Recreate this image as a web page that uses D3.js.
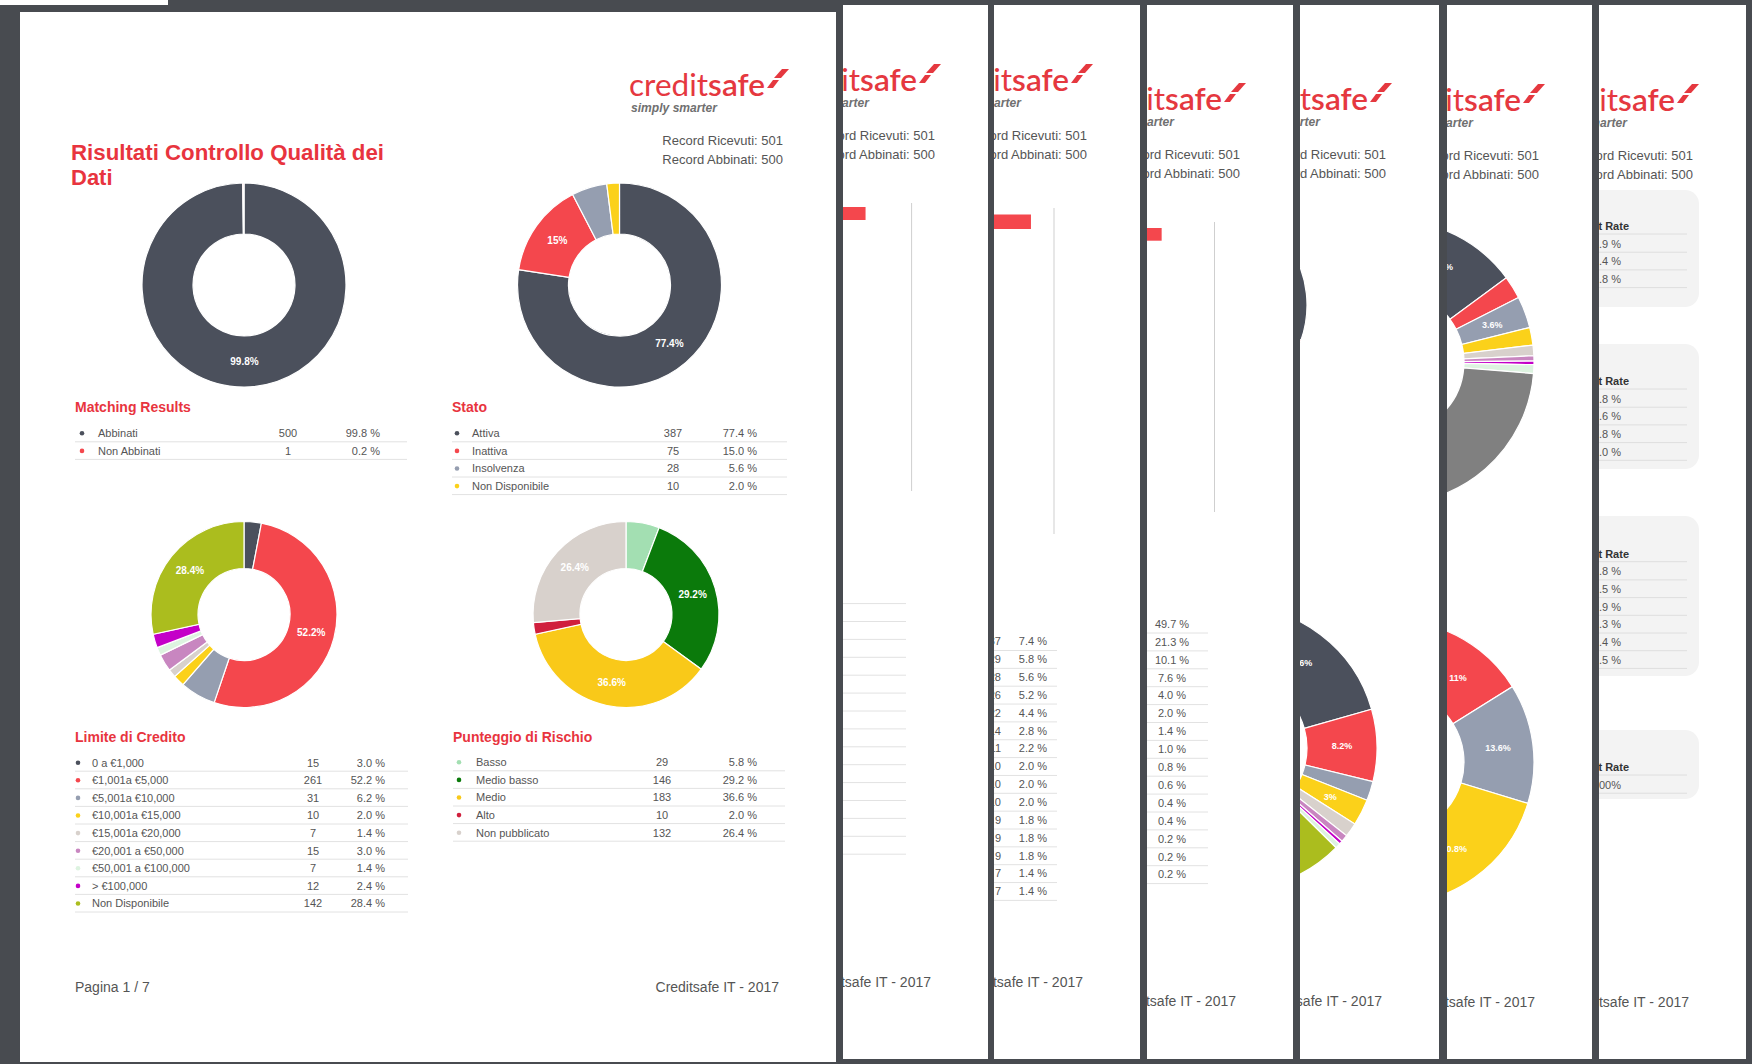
<!DOCTYPE html>
<html><head><meta charset="utf-8">
<script src="https://cdn.jsdelivr.net/npm/d3@7"></script>
<style>
html,body{margin:0;padding:0;background:#474a4f;overflow:hidden}
svg{display:block;font-family:"Liberation Sans",Arial,sans-serif}
</style>
</head><body>
<svg id="c" width="1752" height="1064"></svg>
<script>
// ---------------- DATA ----------------
const matchLabels = ["Abbinati", "Non Abbinati"];
const matchCounts = [500, 1];
const matchPct = [99.8, 0.2];

const statoLabels = ["Attiva", "Inattiva", "Insolvenza", "Non Disponibile"];
const statoCounts = [387, 75, 28, 10];
const statoPct = [77.4, 15.0, 5.6, 2.0];

const limiteLabels = ["0 a €1,000", "€1,001a €5,000", "€5,001a €10,000", "€10,001a €15,000", "€15,001a €20,000",
  "€20,001 a €50,000", "€50,001 a €100,000", "> €100,000", "Non Disponibile"];
const limiteCounts = [15, 261, 31, 10, 7, 15, 7, 12, 142];
const limitePct = [3.0, 52.2, 6.2, 2.0, 1.4, 3.0, 1.4, 2.4, 28.4];

const rischioLabels = ["Basso", "Medio basso", "Medio", "Alto", "Non pubblicato"];
const rischioCounts = [29, 146, 183, 10, 132];
const rischioPct = [5.8, 29.2, 36.6, 2.0, 26.4];

const recordRicevuti = 501;
const recordAbbinati = 500;

// partly hidden pages behind the first one
const page2Bar = [88.3];
const page3Bar = [94.0];
const page4Bar = [86.5];
const page3Counts = [37, 29, 28, 26, 22, 14, 11, 10, 10, 10, 9, 9, 9, 7, 7];
const page3Pct = [7.4, 5.8, 5.6, 5.2, 4.4, 2.8, 2.2, 2.0, 2.0, 2.0, 1.8, 1.8, 1.8, 1.4, 1.4];
const page4Pct = [49.7, 21.3, 10.1, 7.6, 4.0, 2.0, 1.4, 1.0, 0.8, 0.6, 0.4, 0.4, 0.2, 0.2, 0.2];
const page5TopPct = [30.4, 8.0, 61.6];
const page5BottomPct = [20.6, 8.2, 2.2, 3.0, 1.6, 0.8, 0.4, 0.6, 62.6];
const page5BottomShown = [true, true, false, true, false, false, false, false, true];
const page6TopPct = [14.9, 2.6, 3.6, 2.0, 1.2, 0.6, 0.4, 1.0, 73.7];
const page6TopShown = [true, false, true, false, false, false, false, false, true];
const page6BottomPct = [5.1, 11, 13.6, 20.8, 49.5];
const page7Headers = ["Hit Rate", "Hit Rate", "Hit Rate", "Hit Rate"];
const page7Box1 = [4.9, 2.4, 0.8];
const page7Box2 = [1.8, 0.6, 0.8, 2.0];
const page7Box3 = [1.8, 0.5, 0.9, 0.3, 0.4, 0.5];
const page7Box4 = ["100%"];

// ---------------- STYLE ----------------
const C = {
  slate: "#4b505c", red: "#f4474d", grayblue: "#959eb0", yellow: "#fbd11a",
  beige: "#d8d1cc", mauve: "#c886c0", pale: "#ddf3e0", magenta: "#c400c8",
  olive: "#abbd1e", lgreen: "#a3dfb2", dgreen: "#0b7a0b", myellow: "#f9c919",
  crimson: "#d01f3d", midgray: "#808080"
};
const matchColors = [C.slate, C.red];
const statoColors = [C.slate, C.red, C.grayblue, C.yellow];
const limiteColors = [C.slate, C.red, C.grayblue, C.yellow, C.beige, C.mauve, C.pale, C.magenta, C.olive];
const rischioColors = [C.lgreen, C.dgreen, C.myellow, C.crimson, C.beige];
const RED = "#e8343e", TXT = "#555";

const svg = d3.select("#c");
const defs = svg.append("defs");
const fmtPct = v => d3.format(".1f")(v) + " %";
const fmtLbl = v => (v % 1 === 0 ? d3.format(".0f")(v) : d3.format(".1f")(v)) + "%";

svg.append("rect").attr("width", 1752).attr("height", 1064).attr("fill", "#484b50");
svg.append("rect").attr("x", 0).attr("y", 0).attr("width", 168).attr("height", 5).attr("fill", "#fff");

function donut(g, cx, cy, R, r, values, colors, shown, fs) {
  const pie = d3.pie().sort(null).value(d => d).startAngle(0).endAngle(2 * Math.PI)(values);
  const arc = d3.arc().innerRadius(r).outerRadius(R);
  const gg = g.append("g").attr("transform", `translate(${cx},${cy})`);
  gg.selectAll("path").data(pie).join("path")
    .attr("d", arc).attr("fill", (d, i) => colors[i])
    .attr("stroke", "#fff").attr("stroke-width", 1.2);
  gg.selectAll("text").data(pie.filter((d, i) => shown(values[i], i))).join("text")
    .attr("transform", d => `translate(${arc.centroid(d)})`)
    .attr("text-anchor", "middle").attr("dy", "0.35em")
    .attr("fill", "#fff").attr("font-weight", "bold").attr("font-size", fs)
    .text(d => fmtLbl(d.data));
}

function header(g, R, dy) {
  const t = g.append("text").attr("x", R - 207).attr("y", 96 + dy)
    .attr("font-family", "Lato, 'Open Sans', sans-serif").attr("font-size", 31)
    .attr("fill", "#e5383f").attr("textLength", 136).attr("lengthAdjust", "spacingAndGlyphs");
  t.append("tspan").attr("font-weight", 400).text("credit");
  t.append("tspan").attr("font-weight", 600).text("safe");
  g.append("polygon").attr("fill", "#e5383f")
    .attr("points", [[R - 62, 78 + dy], [R - 54, 69 + dy], [R - 47, 69 + dy], [R - 55, 78 + dy]].join(" "));
  g.append("polygon").attr("fill", "#e5383f")
    .attr("points", [[R - 69, 88 + dy], [R - 63, 80 + dy], [R - 57, 80 + dy], [R - 63, 88 + dy]].join(" "));
  g.append("text").attr("x", R - 205).attr("y", 112 + dy).attr("font-size", 12)
    .attr("font-weight", "bold").attr("font-style", "italic").attr("fill", "#707070")
    .attr("textLength", 86).attr("lengthAdjust", "spacingAndGlyphs").text("simply smarter");
  g.append("text").attr("x", R - 53).attr("y", 145 + dy).attr("text-anchor", "end")
    .attr("font-size", 13).attr("fill", TXT).text("Record Ricevuti: " + recordRicevuti);
  g.append("text").attr("x", R - 53).attr("y", 164 + dy).attr("text-anchor", "end")
    .attr("font-size", 13).attr("fill", TXT).text("Record Abbinati: " + recordAbbinati);
}
function footer(g, R, dy) {
  g.append("text").attr("x", R - 57).attr("y", 992 + dy).attr("text-anchor", "end")
    .attr("font-size", 14).attr("fill", TXT).text("Creditsafe IT - 2017");
}

function table(g, o) {
  g.append("text").attr("x", o.x0).attr("y", o.headY).attr("font-size", 14).attr("font-weight", "bold")
    .attr("fill", RED).text(o.title);
  const y = d3.scaleLinear().domain([0, 1]).range([o.rowY0, o.rowY0 + o.rowH]);
  const rows = g.selectAll(null).data(o.labels).join("g")
    .attr("transform", (d, i) => `translate(0,${y(i)})`);
  rows.append("line").attr("x1", o.x0).attr("x2", o.x1).attr("y1", 8.5).attr("y2", 8.5)
    .attr("stroke", "#e2e2e2").attr("stroke-width", 1);
  rows.append("circle").attr("cx", o.bulletX).attr("cy", 0).attr("r", 2.3).attr("fill", (d, i) => o.colors[i]);
  rows.append("text").attr("x", o.labelX).attr("dy", "0.35em").attr("font-size", 11).attr("fill", TXT).text(d => d);
  rows.append("text").attr("x", o.numX).attr("dy", "0.35em").attr("text-anchor", "middle")
    .attr("font-size", 11).attr("fill", TXT).text((d, i) => o.counts[i]);
  rows.append("text").attr("x", o.pctX).attr("dy", "0.35em").attr("text-anchor", "end")
    .attr("font-size", 11).attr("fill", TXT).text((d, i) => fmtPct(o.pcts[i]));
}

// ---------------- BACKGROUND PAGES ----------------
const pages = [
  { id: 7, left: 1599, right: 1746, dy: 15 },
  { id: 6, left: 1447, right: 1592, dy: 15 },
  { id: 5, left: 1300, right: 1439, dy: 14 },
  { id: 4, left: 1147, right: 1293, dy: 14 },
  { id: 3, left: 994, right: 1140, dy: -5 },
  { id: 2, left: 843, right: 988, dy: -5 }
];

function barChart(g, R, values, lineX, y0, h, lineY0, lineY1) {
  const x = d3.scaleLinear().domain([0, 100]).range([R - 470, lineX]);
  g.selectAll(null).data(values).join("rect")
    .attr("x", x(0)).attr("y", y0).attr("width", d => x(d) - x(0)).attr("height", h).attr("fill", C.red);
  g.append("line").attr("x1", x(100)).attr("x2", x(100)).attr("y1", lineY0).attr("y2", lineY1)
    .attr("stroke", "#cfcfcf").attr("stroke-width", 1);
}

function pageContent(g, p) {
  const R = p.right;
  if (p.id === 2) {
    barChart(g, R, page2Bar, 911.6, 207, 13, 203, 491);
    const ys = d3.range(15).map(i => 603.6 + i * 17.9);
    g.selectAll(null).data(ys).join("line").attr("x1", R - 400).attr("x2", 906)
      .attr("y1", d => d).attr("y2", d => d).attr("stroke", "#e2e2e2");
  }
  if (p.id === 3) {
    barChart(g, R, page3Bar, 1054, 214.5, 14.5, 208, 534);
    const y = i => 641.5 + i * 17.85;
    g.selectAll(null).data(page3Pct).join("line").attr("x1", R - 400).attr("x2", 1057)
      .attr("y1", (d, i) => y(i) + 9).attr("y2", (d, i) => y(i) + 9).attr("stroke", "#e2e2e2");
    g.selectAll(null).data(page3Counts).join("text").attr("x", 1001).attr("y", (d, i) => y(i)).attr("dy", "0.35em")
      .attr("text-anchor", "end").attr("font-size", 11).attr("fill", TXT).text(d => d);
    g.selectAll(null).data(page3Pct).join("text").attr("x", 1047).attr("y", (d, i) => y(i)).attr("dy", "0.35em")
      .attr("text-anchor", "end").attr("font-size", 11).attr("fill", TXT).text(d => fmtPct(d));
  }
  if (p.id === 4) {
    barChart(g, R, page4Bar, 1214.5, 228, 12.7, 222, 512);
    const y = i => 624 + i * 17.9;
    g.selectAll(null).data(page4Pct).join("line").attr("x1", R - 400).attr("x2", 1208)
      .attr("y1", (d, i) => y(i) + 9).attr("y2", (d, i) => y(i) + 9).attr("stroke", "#e2e2e2");
    g.selectAll(null).data(page4Pct).join("text").attr("x", 1172).attr("y", (d, i) => y(i)).attr("dy", "0.35em")
      .attr("text-anchor", "middle").attr("font-size", 11).attr("fill", TXT).text(d => fmtPct(d));
  }
  if (p.id === 5) {
    donut(g, 1201, 305, 106, 54, page5TopPct, [C.slate, C.red, C.grayblue], () => false, 9);
    donut(g, 1235, 748, 142, 72, page5BottomPct,
      [C.slate, C.red, C.grayblue, C.yellow, C.beige, C.mauve, C.magenta, C.pale, C.olive],
      (v, i) => page5BottomShown[i], 9);
  }
  if (p.id === 6) {
    donut(g, 1392, 362, 142, 72, page6TopPct,
      [C.slate, C.red, C.grayblue, C.yellow, C.beige, C.mauve, C.magenta, C.pale, C.midgray],
      (v, i) => page6TopShown[i], 9);
    donut(g, 1392, 762, 142, 72, page6BottomPct, [C.lgreen, C.red, C.grayblue, C.yellow, C.slate],
      (v, i) => i > 0, 9);
  }
  if (p.id === 7) {
    const boxes = [
      { y0: 190, y1: 307, head: 226, vals: page7Box1.map(fmtPct) },
      { y0: 344, y1: 469, head: 381, vals: page7Box2.map(fmtPct) },
      { y0: 516, y1: 676, head: 553.7, vals: page7Box3.map(fmtPct) },
      { y0: 730, y1: 799, head: 767, vals: page7Box4 }
    ];
    boxes.forEach((b, k) => {
      g.append("rect").attr("x", 1540).attr("y", b.y0).attr("width", 1699 - 1540).attr("height", b.y1 - b.y0)
        .attr("rx", 14).attr("fill", "#f3f3f3");
      g.append("text").attr("x", 1629).attr("y", b.head).attr("dy", "0.35em").attr("text-anchor", "end")
        .attr("font-size", 11).attr("font-weight", "bold").attr("fill", "#333").text(page7Headers[k]);
      g.append("line").attr("x1", 1540).attr("x2", 1687).attr("y1", b.head + 8).attr("y2", b.head + 8).attr("stroke", "#dedede");
      b.vals.forEach((v, i) => {
        const yy = b.head + 17.7 * (i + 1);
        g.append("text").attr("x", 1621).attr("y", yy).attr("dy", "0.35em").attr("text-anchor", "end")
          .attr("font-size", 11).attr("fill", TXT).text(v);
        g.append("line").attr("x1", 1540).attr("x2", 1687).attr("y1", yy + 8.5).attr("y2", yy + 8.5).attr("stroke", "#dedede");
      });
    });
  }
}

pages.forEach(p => {
  const id = "clip" + p.id;
  defs.append("clipPath").attr("id", id).append("rect")
    .attr("x", p.left).attr("y", 5).attr("width", p.right - p.left).attr("height", 1054);
  const g = svg.append("g").attr("clip-path", `url(#${id})`);
  g.append("rect").attr("x", p.left).attr("y", 5).attr("width", p.right - p.left).attr("height", 1054).attr("fill", "#fff");
  header(g, p.right, p.dy);
  footer(g, p.right, p.dy);
  pageContent(g, p);
});

// ---------------- MAIN PAGE ----------------
const main = svg.append("g");
main.append("rect").attr("x", 20).attr("y", 12).attr("width", 816).attr("height", 1050).attr("fill", "#fff");
header(main, 836, 0);
main.append("text").attr("x", 71).attr("y", 160).attr("font-size", 22).attr("font-weight", "bold").attr("fill", RED)
  .attr("textLength", 313).attr("lengthAdjust", "spacingAndGlyphs").text("Risultati Controllo Qualità dei");
main.append("text").attr("x", 71).attr("y", 185).attr("font-size", 22).attr("font-weight", "bold").attr("fill", RED).text("Dati");

const big = v => v >= 10;
donut(main, 244, 285, 102, 51, matchPct, matchColors, big, 10);
donut(main, 619.5, 285, 102, 51, statoPct, statoColors, big, 10);
donut(main, 244, 614.5, 93, 46, limitePct, limiteColors, big, 10);
donut(main, 626, 614.5, 93, 46, rischioPct, rischioColors, big, 10);

table(main, { x0: 75, x1: 407, headY: 412, title: "Matching Results", labels: matchLabels, counts: matchCounts,
  pcts: matchPct, colors: matchColors, bulletX: 82, labelX: 98, numX: 288, pctX: 380, rowY0: 433.3, rowH: 17.6 });
table(main, { x0: 452, x1: 787, headY: 412, title: "Stato", labels: statoLabels, counts: statoCounts,
  pcts: statoPct, colors: statoColors, bulletX: 457, labelX: 472, numX: 673, pctX: 757, rowY0: 433.3, rowH: 17.6 });
table(main, { x0: 75, x1: 408, headY: 742, title: "Limite di Credito", labels: limiteLabels, counts: limiteCounts,
  pcts: limitePct, colors: limiteColors, bulletX: 78, labelX: 92, numX: 313, pctX: 385, rowY0: 762.7, rowH: 17.6 });
table(main, { x0: 453, x1: 785, headY: 742, title: "Punteggio di Rischio", labels: rischioLabels, counts: rischioCounts,
  pcts: rischioPct, colors: rischioColors, bulletX: 459, labelX: 476, numX: 662, pctX: 757, rowY0: 762.3, rowH: 17.6 });

main.append("text").attr("x", 75).attr("y", 992).attr("font-size", 14).attr("fill", TXT).text("Pagina 1 / 7");
footer(main, 836, 0);
</script>
</body></html>
